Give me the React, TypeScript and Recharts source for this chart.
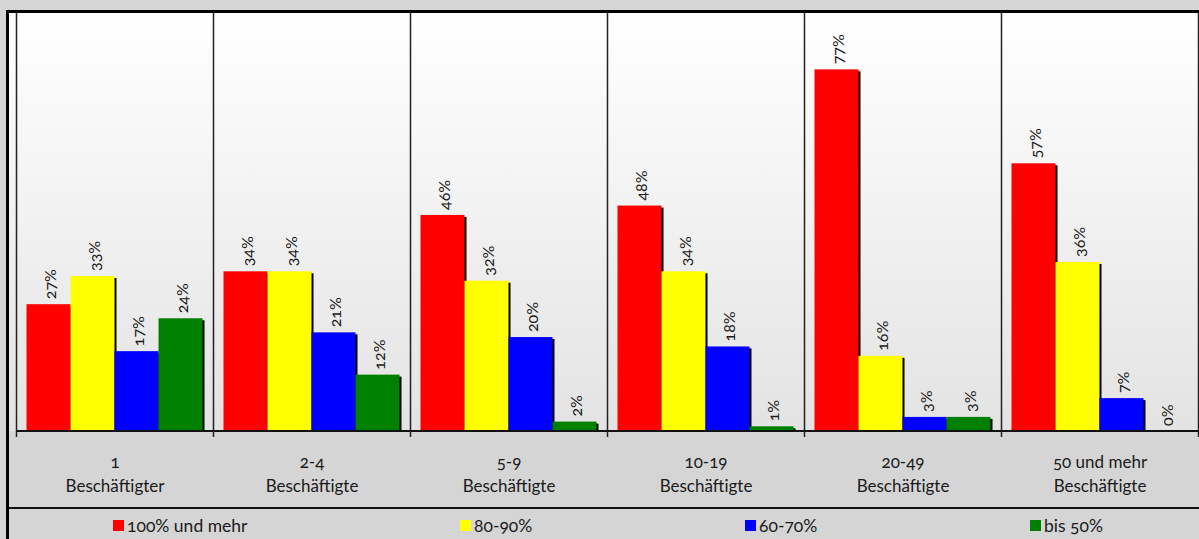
import React from 'react';
import { BarChart, Bar, XAxis, YAxis, CartesianGrid, LabelList } from 'recharts';

const categoryLine1 = ['1', '2-4', '5-9', '10-19', '20-49', '50 und mehr'];
const categoryLine2 = ['Beschäftigter', 'Beschäftigte', 'Beschäftigte', 'Beschäftigte', 'Beschäftigte', 'Beschäftigte'];

const seriesNames = ['100% und mehr', '80-90%', '60-70%', 'bis 50%'];
const seriesKeys = ['s100', 's80', 's60', 's50'];
const seriesColors = ['#ff0000', '#ffff00', '#0000ff', '#008000'];

const values100 = [27, 34, 46, 48, 77, 57];
const values80 = [33, 34, 32, 34, 16, 36];
const values60 = [17, 21, 20, 18, 3, 7];
const values50 = [24, 12, 2, 1, 3, 0];

const data = categoryLine1.map((c, i) => ({
  cat: c,
  s100: values100[i],
  s80: values80[i],
  s60: values60[i],
  s50: values50[i],
}));

const FONT = 'Lato, "Open Sans", sans-serif';
const CHART_W = 1199;
const MARGIN_L = 16.5;
const MARGIN_R = 0.5;
const HALF_BAND = (CHART_W - MARGIN_L - MARGIN_R) / categoryLine1.length / 2;

const ShadowBar = (props: any) => {
  const { x, y, width, height, fill } = props;
  if (!height || height <= 0) return null;
  return (
    <g>
      <rect x={x + 2} y={y + 2} width={width} height={Math.max(0, height - 2)} fill="#000" />
      <rect x={x} y={y} width={width} height={height} fill={fill} />
    </g>
  );
};

const RotLabel = (props: any) => {
  const vb = props.viewBox || {};
  const x = props.x ?? vb.x;
  const y = props.y ?? vb.y;
  const width = props.width ?? vb.width;
  const height = props.height ?? vb.height ?? 0;
  const top = height < 0 ? y + height : y;
  const cx = x + width / 2 + 1;
  const ty = top - 5;
  return (
    <text
      x={cx}
      y={ty}
      transform={`rotate(-90 ${cx} ${ty})`}
      textAnchor="start"
      dominantBaseline="central"
      fontSize={16}
      fontFamily={FONT}
      fill="#1a1a1a"
      style={{ fontVariantNumeric: 'oldstyle-nums' }}
    >
      {props.value}%
    </text>
  );
};

const CatTick = (props: any) => {
  const { x, y, payload } = props;
  const i = payload.index;
  return (
    <g>
      <line x1={x - HALF_BAND} x2={x - HALF_BAND} y1={y} y2={y + 6} stroke="#222" strokeWidth={1.5} />
      {i === categoryLine1.length - 1 && (
        <line x1={x + HALF_BAND} x2={x + HALF_BAND} y1={y} y2={y + 6} stroke="#222" strokeWidth={1.5} />
      )}
      <text x={x} y={y + 37} textAnchor="middle" fontSize={17} fontFamily={FONT} fill="#1a1a1a" style={{ fontVariantNumeric: 'oldstyle-nums' }}>
        {categoryLine1[i]}
      </text>
      <text x={x} y={y + 61} textAnchor="middle" fontSize={17} fontFamily={FONT} fill="#1a1a1a">
        {categoryLine2[i]}
      </text>
    </g>
  );
};

const legendX = [113, 460, 745, 1030];

export default function App() {
  return (
    <div style={{ position: 'absolute', left: 0, top: 0, width: 1199, height: 539, background: '#d5d5d5', overflow: 'hidden', fontFamily: FONT }}>
      <div style={{ position: 'absolute', left: 9, top: 13, width: 1190, height: 418, background: 'linear-gradient(#ffffff, #e3e3e3)' }} />
      <div style={{ position: 'absolute', left: 0, top: 0 }}>
        <BarChart
          width={CHART_W}
          height={539}
          data={data}
          margin={{ top: 13, left: MARGIN_L, right: MARGIN_R, bottom: 31 }}
          barCategoryGap={10}
          barGap={0}
        >
          <CartesianGrid
            horizontal={false}
            stroke="#222"
            strokeWidth={1.5}
            verticalCoordinatesGenerator={({ offset }: any) =>
              Array.from({ length: categoryLine1.length + 1 }, (_, b) => offset.left + (b * offset.width) / categoryLine1.length)
            }
          />
          <YAxis hide domain={[0, 89]} />
          <XAxis
            dataKey="cat"
            height={77}
            interval={0}
            tickSize={0}
            tickMargin={0}
            tickLine={false}
            axisLine={{ stroke: '#111', strokeWidth: 2 }}
            tick={<CatTick />}
          />
          {seriesKeys.map((k, i) => (
            <Bar key={k} dataKey={k} name={seriesNames[i]} fill={seriesColors[i]} shape={<ShadowBar />} isAnimationActive={false}>
              <LabelList dataKey={k} content={<RotLabel />} />
            </Bar>
          ))}
        </BarChart>
      </div>
      <div style={{ position: 'absolute', left: 6, top: 10, width: 3, height: 529, background: '#000' }} />
      <div style={{ position: 'absolute', left: 6, top: 10, width: 1193, height: 3, background: '#000' }} />
      <div style={{ position: 'absolute', left: 9, top: 507, width: 1190, height: 2, background: '#111' }} />
      {seriesNames.map((n, i) => (
        <div key={n} style={{ position: 'absolute', left: legendX[i], top: 515, height: 20, display: 'flex', alignItems: 'center', fontSize: 17.5, color: '#1a1a1a', fontVariantNumeric: 'oldstyle-nums' }}>
          <span style={{ display: 'inline-block', width: 11, height: 11, background: seriesColors[i], marginRight: 3 }} />
          <span>{n}</span>
        </div>
      ))}
    </div>
  );
}
